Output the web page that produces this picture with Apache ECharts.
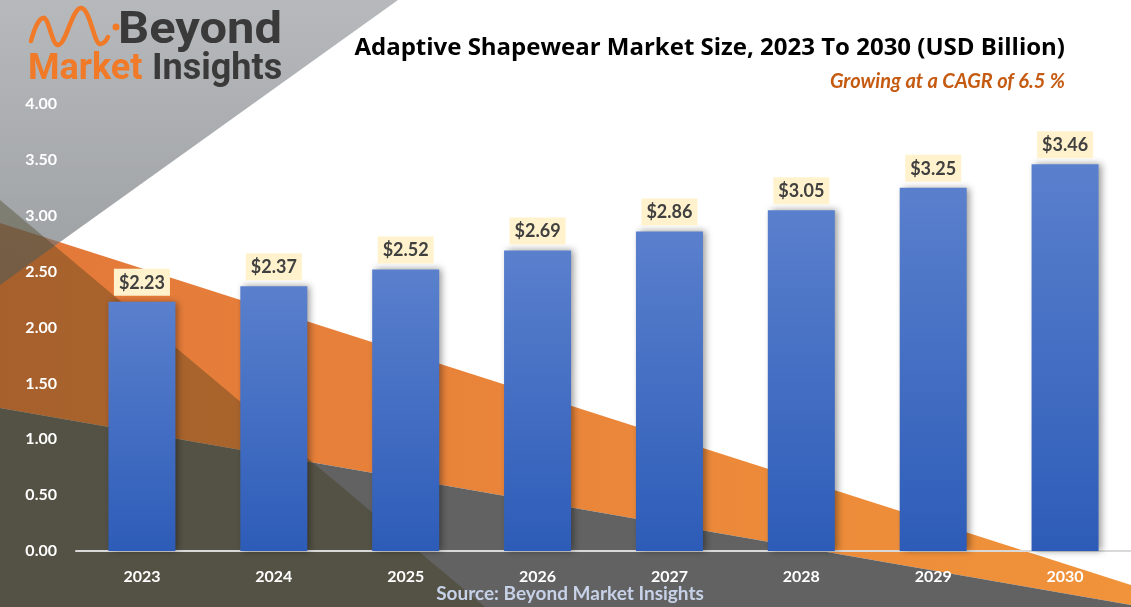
<!DOCTYPE html>
<html>
<head>
<meta charset="utf-8">
<script src="https://cdn.jsdelivr.net/npm/echarts@6/dist/echarts.min.js"></script>
<style>
html,body{margin:0;padding:0;background:#fff;}
#chart{width:1131px;height:607px;}
</style>
</head>
<body>
<div id="chart"></div>
<script>
const categories = ['2023','2024','2025','2026','2027','2028','2029','2030'];
const marketSize = [2.23, 2.37, 2.52, 2.69, 2.86, 3.05, 3.25, 3.46];
const yTicks = { min: 0, max: 4, interval: 0.5 };
const titleText = 'Adaptive Shapewear Market Size, 2023 To 2030 (USD Billion)';
const subtitleText = 'Growing at a CAGR of 6.5 %';
const sourceText = 'Source: Beyond Market Insights';

const FONT = 'Lato, "Open Sans", sans-serif';
const chart = echarts.init(document.getElementById('chart'));

const waveStyle = { fill: null, stroke: '#f07a28', lineWidth: 4.5, lineCap: 'round' };
const bg = [
  { type: 'polygon', z: -10, shape: { points: [[0,223],[1131,585],[1131,605],[0,408]] },
    style: { fill: new echarts.graphic.LinearGradient(0,0,1,0,[{offset:0,color:'#e3783a'},{offset:1,color:'#f0933a'}]) } },
  { type: 'polygon', z: -9, shape: { points: [[0,408],[1131,605],[1131,607],[0,607]] },
    style: { fill: '#626262' } },
  { type: 'polygon', z: -8, shape: { points: [[0,0],[398,0],[0,285]] },
    style: { fill: new echarts.graphic.LinearGradient(0,0,0,1,[{offset:0,color:'rgba(130,134,138,0.58)'},{offset:1,color:'rgba(105,110,115,0.66)'}]) } },
  { type: 'polygon', z: -7, shape: { points: [[0,200],[485,607],[0,607]] },
    style: { fill: 'rgba(60,55,20,0.36)' } },
  // logo wave
  { type: 'bezierCurve', z: 20, shape: { x1: 31, y1: 41, cpx1: 35, cpy1: 26, cpx2: 40, cpy2: 17, x2: 44, y2: 18 }, style: waveStyle },
  { type: 'bezierCurve', z: 20, shape: { x1: 44, y1: 18, cpx1: 49, cpy1: 19, cpx2: 52, cpy2: 45, x2: 58, y2: 45 }, style: waveStyle },
  { type: 'bezierCurve', z: 20, shape: { x1: 58, y1: 45, cpx1: 66, cpy1: 45, cpx2: 72, cpy2: 8, x2: 81, y2: 8 }, style: waveStyle },
  { type: 'bezierCurve', z: 20, shape: { x1: 81, y1: 8, cpx1: 90, cpy1: 8, cpx2: 94, cpy2: 44, x2: 100, y2: 44 }, style: waveStyle },
  { type: 'bezierCurve', z: 20, shape: { x1: 100, y1: 44, cpx1: 104, cpy1: 44, cpx2: 106, cpy2: 41, x2: 108, y2: 37 }, style: waveStyle },
  { type: 'circle', z: 20, shape: { cx: 116, cy: 27, r: 3.5 }, style: { fill: '#f07a28' } },
  { type: 'text', z: 20, x: 118, y: 32, scaleX: 1.11, style: { text: 'Beyond', x: 0, y: 0, font: 'bold 44px Roboto, sans-serif', fill: '#3a3a3a', textVerticalAlign: 'middle' } },
  { type: 'text', z: 20, style: { text: 'Market', x: 28, y: 70, font: 'bold 36px Roboto, sans-serif', fill: '#f07a28', textVerticalAlign: 'middle' } },
  { type: 'text', z: 20, style: { text: 'Insights', x: 152, y: 70, font: 'bold 36px Roboto, sans-serif', fill: '#3a3a3a', textVerticalAlign: 'middle' } },
  // source
  { type: 'text', z: 20, style: { text: sourceText, x: 570, y: 594, font: 'bold 19px ' + FONT, fill: '#c7d2e8', textAlign: 'center', textVerticalAlign: 'middle' } }
];

const option = {
  animation: false,
  backgroundColor: '#ffffff',
  title: [
    { text: titleText, right: 61, top: 31, textStyle: { fontFamily: '"Open Sans", Lato, sans-serif', fontWeight: 'bold', fontSize: 24, color: '#000' } },
    { text: subtitleText, right: 61, top: 67, textStyle: { fontFamily: FONT, fontWeight: 'bold', fontStyle: 'italic', fontSize: 20, color: '#c55a11' } }
  ],
  graphic: bg,
  grid: { left: 76, top: 104, width: 1061, height: 447, containLabel: false },
  xAxis: {
    type: 'category', data: categories,
    axisLine: { lineStyle: { color: '#d9d9d9', width: 2 } },
    axisTick: { show: false },
    axisLabel: { color: '#ffffff', fontFamily: FONT, fontWeight: 'bold', fontSize: 16, margin: 18 }
  },
  yAxis: {
    type: 'value', min: yTicks.min, max: yTicks.max, interval: yTicks.interval,
    splitLine: { show: false }, axisLine: { show: false }, axisTick: { show: false },
    axisLabel: { color: '#ffffff', fontFamily: FONT, fontWeight: 'bold', fontSize: 16, margin: 19,
      formatter: v => v.toFixed(2) }
  },
  series: [{
    type: 'bar', data: marketSize, barWidth: 67,
    itemStyle: {
      color: new echarts.graphic.LinearGradient(0,0,0,1,[{offset:0,color:'#5a80cd'},{offset:1,color:'#2d5cb8'}]),
      shadowColor: 'rgba(0,0,0,0.4)', shadowBlur: 7, shadowOffsetX: 3, shadowOffsetY: 0
    },
    label: {
      show: true, position: 'top', distance: 6,
      formatter: p => '$' + p.value.toFixed(2),
      backgroundColor: '#fff2cc', padding: [5, 5, 4, 5],
      color: '#404040', fontFamily: FONT, fontWeight: 'bold', fontSize: 18
    }
  }]
};
chart.setOption(option);
</script>
</body>
</html>
